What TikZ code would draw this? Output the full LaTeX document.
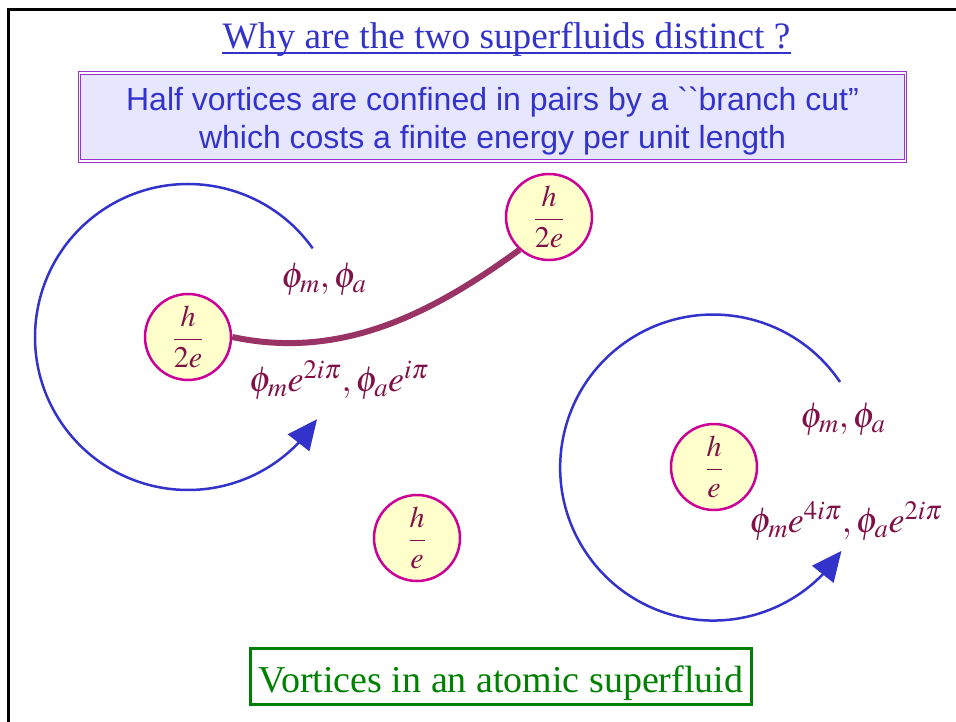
\documentclass[tikz,border=0pt]{standalone}
\usepackage{mathptmx}
\usepackage[no-math]{fontspec}
\setmainfont{Liberation Serif}
\newfontfamily\arialfont[Ligatures=TeXOff]{Liberation Sans}
\usetikzlibrary{arrows.meta,bending}
\definecolor{titleblue}{RGB}{51,51,204}
\definecolor{boxpurple}{RGB}{153,51,204}
\definecolor{boxfill}{RGB}{230,230,255}
\definecolor{coreedge}{RGB}{204,0,153}
\definecolor{corefill}{RGB}{255,255,204}
\definecolor{phasered}{RGB}{128,16,72}
\definecolor{cutred}{RGB}{153,51,102}
\definecolor{labelgreen}{RGB}{0,128,0}
\begin{document}
\begin{tikzpicture}[x=1pt,y=1pt,
  vortex/.style={circle,draw=coreedge,fill=corefill,line width=2.5pt,minimum size=86pt,inner sep=0pt,text=phasered,font=\fontsize{30}{32}\selectfont},
  phase/.style={text=phasered,font=\fontsize{36}{40}\selectfont,inner sep=0pt},
  orbit/.style={draw=titleblue,line width=2.5pt,-{Triangle[length=30pt,width=27pt,flex]}}]
% 原子超流体中的涡旋
\useasboundingbox (0,0) rectangle (956,-722);
\draw[line width=3pt] (8,-722) -- (8,-9.5) -- (956,-9.5);
\node[anchor=base,inner sep=0pt,text=titleblue,font=\fontsize{37.3}{40}\selectfont] (title) at (506.5,-49) {Why are the two superfluids distinct ?};
\draw[titleblue,line width=2pt] ([yshift=-4pt]title.base west) -- ([yshift=-4pt]title.base east);
\node[draw=boxpurple,double=white,double distance=1.5pt,line width=1.2pt,fill=boxfill,minimum width=826pt,minimum height=88pt] (cutbox) at (492.5,-117) {};
\node[align=center,inner sep=0pt,text=titleblue,font=\arialfont\fontsize{32}{38}\selectfont] (cuttext) at (492.5,-121) {Half vortices are confined in pairs by a ``branch cut”\\which costs a finite energy per unit length};
\node[vortex] (half1) at (188,-337) {$\displaystyle\frac{h}{2e}$};
\node[vortex] (half2) at (549,-217) {$\displaystyle\frac{h}{2e}$};
\node[vortex] (full1) at (417,-538) {$\displaystyle\frac{h}{e}$};
\node[vortex] (full2) at (714,-467) {$\displaystyle\frac{h}{e}$};
\draw[cutred,line width=6pt] (half1.east) .. controls (340,-360) and (430,-315) .. (half2.228);
\draw[orbit] ([shift={(35.4:153)}]half1.center) arc[start angle=35.4,end angle=327.5,radius=153];
\draw[orbit] ([shift={(34:152)}]full2.center) arc[start angle=34,end angle=327,radius=153];
\node[phase] (p1) at (324,-279) {$\phi_m,\phi_a$};
\node[phase] (p2) at (339,-380) {$\phi_m e^{2i\pi},\phi_a e^{i\pi}$};
\node[phase] (p3) at (843,-419) {$\phi_m,\phi_a$};
\node[phase] (p4) at (846,-521) {$\phi_m e^{4i\pi},\phi_a e^{2i\pi}$};
\node[draw=labelgreen,line width=3pt,minimum width=501pt,minimum height=56pt] (atombox) at (501,-676.5) {};
\node[anchor=base,inner sep=0pt,text=labelgreen,font=\fontsize{38}{40}\selectfont] (atomtext) at (501,-692) {Vortices in an atomic superfluid};
\end{tikzpicture}
\end{document}
